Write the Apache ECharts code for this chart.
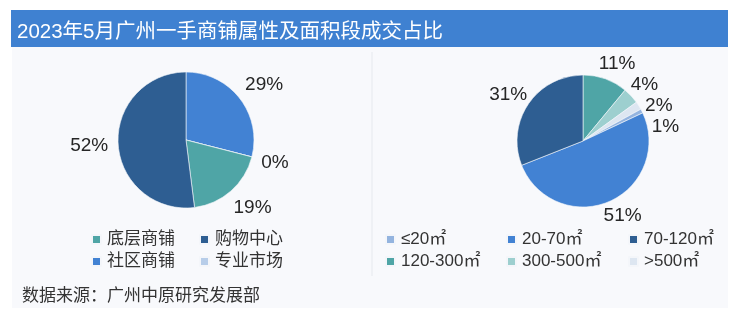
<!DOCTYPE html>
<html>
<head>
<meta charset="utf-8">
<script src="https://cdn.jsdelivr.net/npm/echarts@6/dist/echarts.min.js"></script>
<style>
html,body{margin:0;padding:0;background:#ffffff;}
#c{width:740px;height:319px;}
</style>
</head>
<body>
<div id="c"></div>
<script>
// ---- data ----
const titleText = '2023年5月广州一手商铺属性及面积段成交占比';
const sourceText = '数据来源：广州中原研究发展部';

// left pie (shop type), clockwise from top
const typeNames = ['社区商铺', '专业市场', '底层商铺', '购物中心'];
const typeValues = [29, 0, 19, 52];
const typeColors = ['#4282d3', '#b7cde9', '#4fa5a6', '#2e5e92'];
const typeLegendCol1 = ['底层商铺', '社区商铺'];
const typeLegendCol2 = ['购物中心', '专业市场'];

// right pie (area band), clockwise from top
const areaNames = ['120-300㎡', '300-500㎡', '>500㎡', '≤20㎡', '20-70㎡', '70-120㎡'];
const areaValues = [11, 4, 2, 1, 51, 31];
const areaColors = ['#4fa5a6', '#9dcfcf', '#dde6f1', '#94b4df', '#4282d3', '#2e5e92'];
const areaLegendCol1 = ['≤20㎡', '120-300㎡'];
const areaLegendCol2 = ['20-70㎡', '300-500㎡'];
const areaLegendCol3 = ['70-120㎡', '>500㎡'];

const FONT = '"Liberation Sans", Arial, "Noto Sans CJK SC", sans-serif';
const chart = echarts.init(document.getElementById('c'), null, {renderer: 'canvas'});

function legend(data, left, top) {
  return {
    data: data, left: left, top: top, orient: 'vertical',
    itemWidth: 9, itemHeight: 9, itemGap: 5, icon: 'rect',
    selectedMode: false,
    textStyle: {fontSize: 17, color: '#333', fontFamily: FONT, padding: [0,0,0,1]}
  };
}

function pie(names, values, colors, center, radius, len, lh) {
  return {
    type: 'pie', center: center, radius: radius,
    startAngle: 90, clockwise: true,
    avoidLabelOverlap: true,
    minShowLabelAngle: 0,
    label: {show: true, position: 'outside', formatter: '{c}%', fontSize: 19, lineHeight: lh, color: '#262626', fontFamily: FONT, distanceToLabelLine: 0},
    labelLine: {show: false, length: len, length2: -12},
    itemStyle: {borderColor: '#f4f6fa', borderWidth: 0.6},
    emphasis: {disabled: true},
    data: names.map((n, i) => ({name: n, value: values[i], itemStyle: {color: colors[i]}}))
  };
}

chart.setOption({
  backgroundColor: '#ffffff',
  animation: false,
  graphic: [
    {type: 'rect', shape: {x: 12, y: 47, width: 716, height: 261}, style: {fill: '#f8f9fc'}, z: -10},
    {type: 'rect', shape: {x: 11, y: 10, width: 717, height: 37}, style: {fill: '#3f81d1'}, z: -5},
    {type: 'line', shape: {x1: 372, y1: 52, x2: 372, y2: 276}, style: {stroke: '#e6e9ee', lineWidth: 1}, z: -5}
  ],
  title: [
    {text: titleText, left: 12, top: 17, textStyle: {color: '#ffffff', fontSize: 20.5, fontWeight: 'normal', fontFamily: FONT}},
    {text: sourceText, left: 17, top: 283, textStyle: {color: '#333', fontSize: 17, fontWeight: 'normal', fontFamily: FONT}}
  ],
  legend: [
    legend(typeLegendCol1, 86, 226),
    legend(typeLegendCol2, 194, 226),
    legend(areaLegendCol1, 380, 226),
    legend(areaLegendCol2, 501, 226),
    legend(areaLegendCol3, 623, 226)
  ],
  series: [
    pie(typeNames, typeValues, typeColors, [186, 140], 68, 22, 19),
    pie(areaNames, areaValues, areaColors, [583, 141], 66, 16, 15)
  ]
});
</script>
</body>
</html>
